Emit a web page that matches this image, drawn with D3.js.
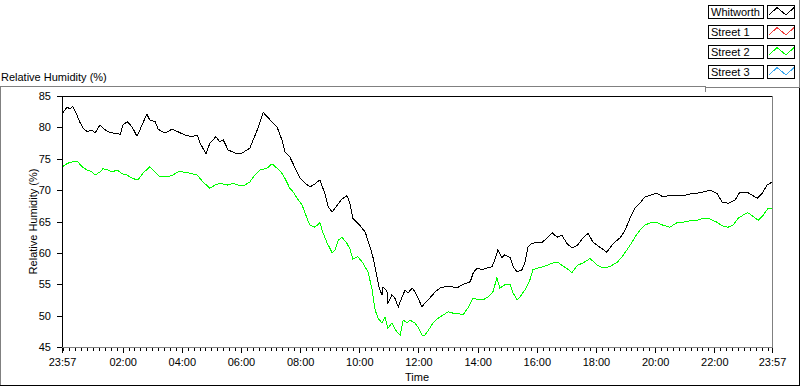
<!DOCTYPE html>
<html lang="en">
<head>
<meta charset="UTF-8">
<title>Relative Humidity</title>
<script src="https://d3js.org/d3.v7.min.js"></script>
<style>
    body {
        margin: 0;
        background: #fff;
    }
    svg {
        display: block;
        font-family: "Liberation Sans", Arial, sans-serif;
        font-size: 11px;
    }
    .axis .domain {
        display: none;
    }
    .axis line {
        stroke: #000;
    }
    .axis text {
        fill: #000;
        font-size: 11px;
        font-family: "Liberation Sans", Arial, sans-serif;
    }
</style>
</head>
<body>
<svg width="800" height="386"></svg>
<script>
// legend entries (only Whitworth and Street 2 carry data in the picture)
const seriesNames = ["Whitworth", "Street 1", "Street 2", "Street 3"];
const seriesColors = ["#000000", "#f03c3c", "#00ff00", "#3ca8f0"];

// minutes after 23:57 and relative humidity (%)
const whitworthMin = [0, 4, 10, 16, 22, 30, 37, 43, 51, 61, 67, 77, 83, 93, 103, 118, 124, 132, 142, 152,
    158, 172, 178, 189, 195, 209, 223, 235, 249, 264, 274, 280, 292, 300, 312, 320, 327, 337, 351, 365,
    381, 396, 408, 422, 436, 446, 452, 462, 473, 483, 493, 503, 513, 523, 533, 540, 548, 558, 568, 578,
    584, 590, 604, 615, 625, 631, 639, 643, 649, 651, 659, 661, 669, 675, 682, 690, 696, 702, 710, 716,
    722, 730, 736, 746, 757, 767, 777, 787, 801, 811, 821, 828, 834, 842, 852, 862, 872, 878, 884, 892,
    898, 909, 915, 923, 933, 939, 945, 953, 963, 974, 984, 994, 1004, 1014, 1024, 1034, 1045, 1057, 1067, 1077,
    1091, 1105, 1118, 1132, 1142, 1152, 1162, 1172, 1182, 1193, 1207, 1219, 1233, 1247, 1260, 1274, 1288, 1300, 1314, 1328,
    1339, 1351, 1365, 1375, 1389, 1400, 1410, 1420, 1430, 1440];
const whitworthRH = [82.0, 82.6, 83.2, 83.0, 83.3, 82.0, 80.7, 79.9, 79.3, 79.6, 79.1, 80.4, 79.9, 79.3, 79.1, 78.9, 80.4, 80.9, 80.1, 78.6,
    79.6, 82.1, 81.2, 80.9, 79.7, 79.1, 79.7, 79.3, 78.8, 78.5, 78.8, 77.5, 75.8, 77.5, 78.5, 77.7, 78.0, 76.4, 75.9, 75.9,
    76.7, 79.6, 82.4, 81.2, 80.1, 78.0, 76.1, 75.3, 73.5, 71.9, 71.1, 70.5, 71.0, 71.6, 69.5, 67.3, 66.5, 67.6, 68.6, 69.1,
    67.9, 65.5, 64.4, 63.3, 60.9, 59.2, 56.1, 54.5, 53.3, 54.5, 54.0, 52.0, 53.3, 52.8, 51.4, 53.0, 54.1, 53.6, 54.4, 53.8,
    52.8, 51.4, 52.0, 52.8, 53.8, 54.4, 54.6, 54.7, 54.4, 54.9, 55.2, 55.4, 56.8, 57.6, 57.3, 57.6, 57.8, 58.9, 60.5, 59.2,
    59.7, 59.2, 57.8, 57.0, 57.3, 58.5, 60.9, 61.5, 61.7, 61.7, 62.4, 63.2, 62.5, 62.8, 61.5, 60.8, 61.2, 62.4, 63.1, 61.7,
    60.9, 60.1, 61.5, 62.4, 63.6, 65.5, 67.1, 67.9, 68.9, 69.2, 69.5, 68.9, 69.2, 69.1, 69.1, 69.4, 69.5, 69.7, 70.0, 69.5,
    68.1, 67.9, 68.4, 69.7, 69.7, 69.2, 68.7, 69.5, 70.8, 71.3];

const street2Min = [0, 12, 22, 32, 41, 51, 61, 67, 77, 83, 93, 101, 112, 122, 132, 142, 154, 164, 178, 189,
    199, 213, 225, 235, 245, 260, 274, 286, 300, 310, 320, 335, 347, 357, 371, 381, 391, 402, 416, 426,
    436, 446, 452, 462, 469, 477, 487, 497, 503, 513, 523, 529, 537, 548, 554, 560, 568, 578, 584, 590,
    600, 610, 621, 629, 635, 641, 649, 655, 661, 669, 679, 686, 692, 700, 706, 716, 722, 730, 736, 746,
    752, 763, 773, 783, 793, 803, 813, 823, 834, 844, 854, 864, 874, 882, 888, 898, 909, 915, 923, 929,
    939, 949, 955, 965, 976, 986, 996, 1006, 1016, 1026, 1034, 1045, 1057, 1071, 1085, 1097, 1111, 1126, 1136, 1146,
    1156, 1162, 1172, 1182, 1193, 1207, 1219, 1233, 1247, 1260, 1274, 1288, 1300, 1314, 1328, 1339, 1351, 1361, 1371, 1381,
    1391, 1402, 1412, 1422, 1432, 1440];
const street2RH = [73.7, 74.3, 74.5, 74.5, 73.7, 73.2, 72.9, 72.4, 72.9, 73.4, 73.2, 72.9, 73.2, 72.6, 72.4, 71.9, 71.6, 72.7, 73.7, 72.9,
    72.1, 72.1, 72.4, 72.9, 72.9, 72.7, 72.4, 71.3, 70.3, 70.8, 71.1, 70.8, 71.1, 70.8, 70.8, 71.3, 72.4, 73.2, 73.5, 74.2,
    73.5, 72.7, 71.9, 70.3, 69.7, 68.7, 67.6, 65.5, 64.4, 64.1, 64.8, 63.3, 61.7, 60.0, 60.5, 62.0, 62.5, 61.5, 60.6, 59.0,
    59.4, 58.4, 56.9, 54.1, 50.9, 49.6, 48.8, 49.8, 48.0, 48.8, 47.4, 46.9, 49.3, 48.8, 49.3, 48.8, 48.2, 46.9, 46.9, 48.0,
    48.8, 49.6, 50.1, 50.6, 50.4, 50.4, 50.1, 51.2, 52.8, 52.5, 52.5, 53.0, 53.8, 56.0, 54.4, 54.9, 54.9, 53.6, 52.5, 53.0,
    54.1, 55.7, 57.3, 57.6, 57.8, 58.1, 58.4, 58.5, 57.9, 57.4, 56.8, 58.0, 58.4, 59.1, 58.1, 57.6, 57.8, 58.5, 59.4, 60.5,
    61.7, 62.5, 63.6, 64.4, 64.8, 64.8, 64.4, 64.1, 64.8, 64.9, 65.1, 65.2, 65.5, 65.4, 64.9, 64.3, 64.1, 64.4, 65.5, 66.0,
    66.4, 65.8, 65.2, 66.0, 67.1, 67.1];

const yTicks = [45, 50, 55, 60, 65, 70, 75, 80, 85];
const xTickMin = [0, 123, 243, 363, 483, 603, 723, 843, 963, 1083, 1203, 1323, 1440];
const xTickLabels = ["23:57", "02:00", "04:00", "06:00", "08:00", "10:00", "12:00",
    "14:00", "16:00", "18:00", "20:00", "22:00", "23:57"];

const svg = d3.select("svg");
const plot = {left: 62, right: 772, top: 96, bottom: 347};

const x = d3.scaleLinear().domain([0, 1440]).range([plot.left, plot.right]);
const y = d3.scaleLinear().domain([45, 85]).range([plot.bottom, plot.top]);

// panel frame (gray top/left, black bottom/right)
const frame = svg.append("g").attr("shape-rendering", "crispEdges");
frame.append("line").attr("x1", 0).attr("x2", 705).attr("y1", 86.5).attr("y2", 86.5).style("stroke", "#808080");
frame.append("line").attr("x1", 0.5).attr("x2", 0.5).attr("y1", 86).attr("y2", 386).style("stroke", "#808080");
frame.append("line").attr("x1", 799.5).attr("x2", 799.5).attr("y1", 88).attr("y2", 386).style("stroke", "#000");
frame.append("line").attr("x1", 0).attr("x2", 800).attr("y1", 385.5).attr("y2", 385.5).style("stroke", "#000");
// legend frame
frame.append("line").attr("x1", 799.5).attr("x2", 799.5).attr("y1", 0).attr("y2", 88).style("stroke", "#808080");
frame.append("line").attr("x1", 705).attr("x2", 800).attr("y1", 87.5).attr("y2", 87.5).style("stroke", "#808080");
frame.append("line").attr("x1", 705.5).attr("x2", 705.5).attr("y1", 86).attr("y2", 92).style("stroke", "#808080");

// graph title
svg.append("text")
    .attr("x", 1)
    .attr("y", 81)
    .text("Relative Humidity (%)");

// plot area borders
const border = svg.append("g").attr("shape-rendering", "crispEdges");
border.append("line").attr("x1", plot.left).attr("x2", plot.right + 1).attr("y1", plot.top + 0.5).attr("y2", plot.top + 0.5).style("stroke", "#000");
border.append("line").attr("x1", plot.left + 0.5).attr("x2", plot.left + 0.5).attr("y1", plot.top).attr("y2", plot.bottom + 1).style("stroke", "#000");
border.append("line").attr("x1", plot.right + 0.5).attr("x2", plot.right + 0.5).attr("y1", plot.top).attr("y2", plot.bottom + 1).style("stroke", "#808080");
border.append("line").attr("x1", plot.left).attr("x2", plot.right + 1).attr("y1", plot.bottom + 0.5).attr("y2", plot.bottom + 0.5).style("stroke", "#808080");

// axes
const yAxis = d3.axisLeft(y).tickValues(yTicks).tickSize(5).tickPadding(6);
svg.append("g")
    .attr("class", "axis")
    .attr("shape-rendering", "crispEdges")
    .attr("transform", `translate(${plot.left},0)`)
    .call(yAxis);

const minorTicks = d3.range(3, 1440, 12);
svg.append("g")
    .attr("class", "axis")
    .attr("shape-rendering", "crispEdges")
    .attr("transform", `translate(0,${plot.bottom + 1})`)
    .call(d3.axisBottom(x).tickValues(minorTicks).tickSize(3).tickFormat(""));

const xAxis = d3.axisBottom(x)
    .tickValues(xTickMin)
    .tickSize(5)
    .tickPadding(5)
    .tickFormat((d, i) => xTickLabels[i]);
svg.append("g")
    .attr("class", "axis")
    .attr("shape-rendering", "crispEdges")
    .attr("transform", `translate(0,${plot.bottom + 1})`)
    .call(xAxis);

svg.append("text")
    .attr("x", (plot.left + plot.right) / 2)
    .attr("y", 381)
    .attr("text-anchor", "middle")
    .text("Time");

svg.append("text")
    .attr("transform", `translate(37,${(plot.top + plot.bottom) / 2}) rotate(-90)`)
    .attr("text-anchor", "middle")
    .text("Relative Humidity (%)");

// data lines
svg.append("clipPath")
    .attr("id", "clip")
    .append("rect")
    .attr("x", plot.left + 1)
    .attr("y", plot.top + 1)
    .attr("width", plot.right - plot.left - 1)
    .attr("height", plot.bottom - plot.top - 1);

const line = d3.line()
    .x(d => x(d[0]))
    .y(d => y(d[1]));

// thin aliased strokes like the original instrument panel
const lines = svg.append("g")
    .attr("clip-path", "url(#clip)")
    .attr("shape-rendering", "crispEdges");
lines.append("path")
    .datum(d3.zip(street2Min, street2RH))
    .attr("d", line)
    .style("fill", "none")
    .style("stroke", seriesColors[2])
    .style("stroke-width", 1);
lines.append("path")
    .datum(d3.zip(whitworthMin, whitworthRH))
    .attr("d", line)
    .style("fill", "none")
    .style("stroke", seriesColors[0])
    .style("stroke-width", 1);

// legend
const legend = svg.append("g")
    .selectAll("g")
    .data(seriesNames)
    .enter().append("g")
    .attr("transform", (d, i) => `translate(0,${5 + i * 20})`);

legend.append("rect")
    .attr("x", 708.5).attr("y", 0.5)
    .attr("width", 55).attr("height", 13)
    .attr("shape-rendering", "crispEdges")
    .style("fill", "#fff")
    .style("stroke", "#000");

legend.append("text")
    .attr("x", 711)
    .attr("y", 11)
    .text(d => d);

legend.append("rect")
    .attr("x", 767.5).attr("y", 0.5)
    .attr("width", 27).attr("height", 13)
    .attr("shape-rendering", "crispEdges")
    .style("fill", "#fff")
    .style("stroke", "#000");

legend.append("polyline")
    .attr("points", "769,10 777,2.5 786,10 794,2.5")
    .attr("shape-rendering", "crispEdges")
    .style("fill", "none")
    .style("stroke", (d, i) => seriesColors[i]);
</script>
</body>
</html>
